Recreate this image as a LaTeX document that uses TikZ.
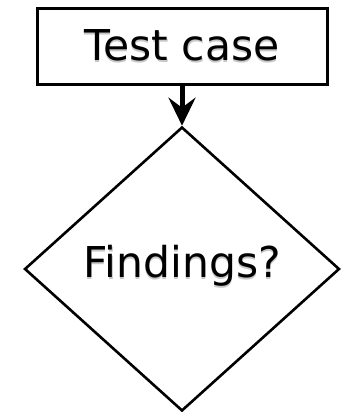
\documentclass[tikz,border=0pt]{standalone}
\usepackage{fontspec}
\setmainfont{DejaVu Sans}
\usetikzlibrary{shapes.geometric,arrows.meta}
% label text with a soft grey drop shadow underneath
\newcommand\shadowed[1]{\leavevmode
  \rlap{\kern0.4pt\raisebox{-2pt}{\textcolor{black!22}{#1}}}%
  #1}
\tikzset{
  label text/.style={font=\fontsize{42.5pt}{50pt}\selectfont, inner sep=0pt},
  stepbox/.style={draw, line width=3pt, minimum width=290pt, minimum height=75pt, inner sep=0pt},
  decision/.style={diamond, draw, line width=2.6pt, minimum width=315pt, minimum height=284pt, inner sep=0pt},
  flow/.style={line width=5pt, -{Stealth[length=28pt, width=27pt, inset=10pt]}}
}
\begin{document}
\begin{tikzpicture}
\useasboundingbox (0pt,0pt) rectangle (344pt,-412pt);
\node[stepbox] (test) at (182pt,-46.5pt) {};
\node[label text] (testlabel) at (182pt,-46pt) {\shadowed{Test case}};
\node[decision] (find) at (182pt,-269pt) {};
\node[label text] (findlabel) at (182pt,-267pt) {\shadowed{Findings?}};
\draw[flow] (test.south) -- (find.north);
\end{tikzpicture}
\end{document}
